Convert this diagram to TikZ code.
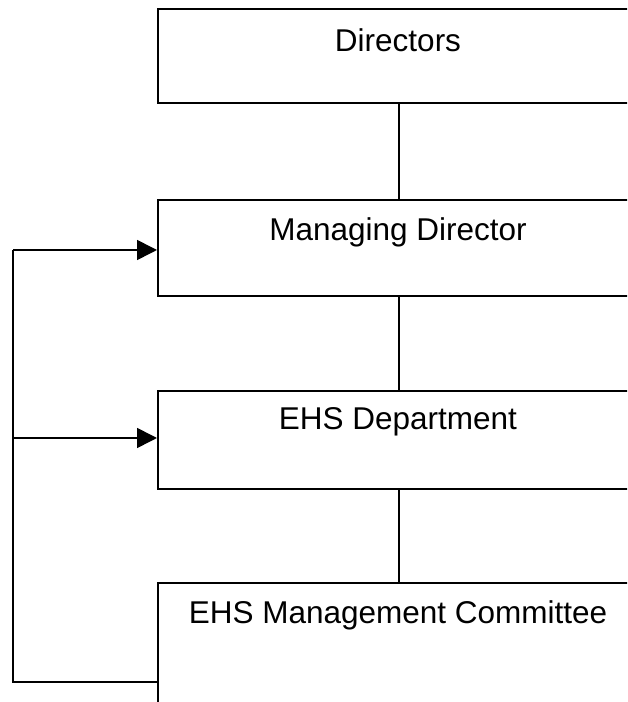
\documentclass[tikz,border=0pt]{standalone}
\usepackage{fontspec}
\setmainfont{Liberation Sans}
\usetikzlibrary{arrows.meta}
\begin{document}
\begin{tikzpicture}[x=0.5pt,y=0.5pt,
  box/.style={draw=black, line width=1pt, rectangle, minimum width=241pt, inner sep=0pt, anchor=north west},
  lbl/.style={font=\fontsize{15.75}{18}\selectfont, inner sep=0pt, anchor=center},
  conn/.style={draw=black, line width=0.6pt},
  fb/.style={draw=black, line width=0.9pt},
  fbarrow/.style={draw=black, line width=0.8pt, -{Triangle[length=10pt,width=10pt]}}]
\useasboundingbox (0,0) rectangle (627,702);
\clip (0,0) rectangle (627,702);
\fill[white] (0,0) rectangle (627,702);
% boxes
\node[box, minimum height=47pt] (dir) at (157,694) {};
\node[box, minimum height=48pt] (md) at (157,503) {};
\node[box, minimum height=49pt] (dept) at (157,312) {};
\node[box, minimum height=70pt] (mc) at (157,120) {};
% labels
\node[lbl] (tdir) at (398,662) {Directors};
\node[lbl] (tmd) at (398,470) {Managing Director};
\node[lbl] (tdept) at (398,280) {EHS Department};
\node[lbl] (tmc) at (398,87) {EHS Management Committee};
% vertical connectors
\draw[conn] (dir.south) -- (md.north);
\draw[conn] (md.south) -- (dept.north);
\draw[conn] (dept.south) -- (mc.north);
% feedback loop
\coordinate (fbbot) at (13,20);
\coordinate (fbtop) at (13,452);
\coordinate (fbmid) at (13,264);
\draw[fb] (fbbot -| mc.west) -- (fbbot) -- (fbtop);
\draw[fbarrow] (fbtop) -- (fbtop -| md.west);
\draw[fbarrow] (fbmid) -- (fbmid -| dept.west);
\end{tikzpicture}
\end{document}
